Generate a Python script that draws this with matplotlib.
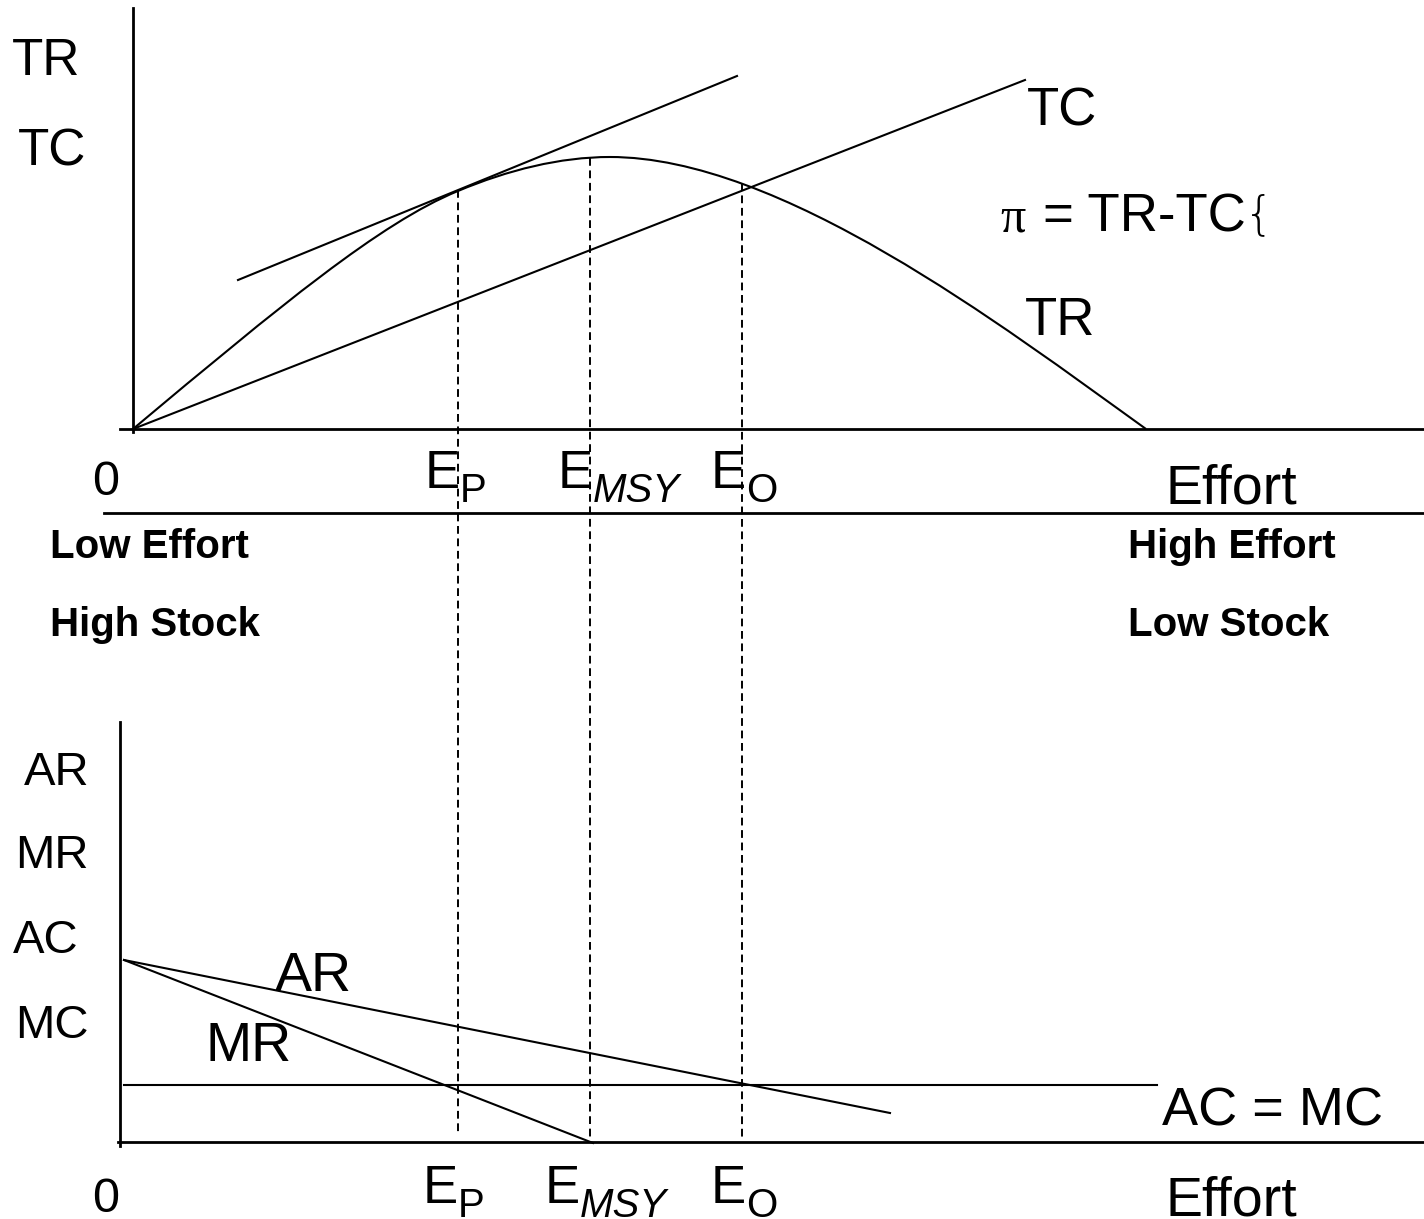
import matplotlib
matplotlib.use("Agg")
import matplotlib.pyplot as plt
from matplotlib.path import Path
from matplotlib.patches import PathPatch

# picture coordinates (pixels, y down)
# TR curve: anchor and control points of three cubic pieces
# (origin -> E_P tangent point -> peak -> zero at high effort)
tr_effort = [133, 280, 380, 458, 508, 560, 610, 780, 1000, 1146]
tr_value = [429, 306, 223, 191, 170, 157, 157, 157, 324, 429]
tc_effort = [133, 1025]
tc_value = [429, 80]
tangent_effort = [238, 737]
tangent_value = [280, 76]

e_names = ["P", "MSY", "O"]
e_effort = [458, 590, 742]
e_top = [190, 158, 183]
e_bottom = [1135, 1140, 1140]
e_label_top_x = [427, 560, 713]
e_label_bottom_x = [425, 547, 713]

ar_effort = [124, 890]
ar_value = [960, 1113]
mr_effort = [124, 593]
mr_value = [960, 1143]
acmc_effort = [124, 1157]
acmc_value = [1085, 1085]

SANS = "Liberation Sans"
SERIF = "Liberation Serif"

fig = plt.figure(figsize=(14.24, 12.19), dpi=100)
ax = fig.add_axes([0, 0, 1, 1])
ax.set_xlim(0, 1424)
ax.set_ylim(1219, 0)
ax.axis("off")

lw = 1.5
# top panel axes
ax.plot([133, 133], [8, 432], color="black", lw=2)
ax.plot([120, 1424], [429, 429], color="black", lw=2)

codes = [Path.MOVETO] + [Path.CURVE4] * (len(tr_effort) - 1)
tr_path = Path(list(zip(tr_effort, tr_value)), codes)
ax.add_patch(PathPatch(tr_path, facecolor="none", edgecolor="black", lw=lw))
ax.plot(tc_effort, tc_value, color="black", lw=lw)
ax.plot(tangent_effort, tangent_value, color="black", lw=lw)

# separator
ax.plot([104, 1424], [513, 513], color="black", lw=2)

# bottom panel
ax.plot([120, 120], [722, 1146], color="black", lw=2)
ax.plot([118, 1424], [1142, 1142], color="black", lw=2)
ax.plot(ar_effort, ar_value, color="black", lw=lw)
ax.plot(mr_effort, mr_value, color="black", lw=lw)
ax.plot(acmc_effort, acmc_value, color="black", lw=lw)

for x, y0, y1 in zip(e_effort, e_top, e_bottom):
    ax.plot([x, x], [y0, y1], color="black", lw=1.4, linestyle=(0, (4, 2.4)))

def txt(x, y, s, size=40, **kw):
    kw.setdefault("family", SANS)
    ax.text(x, y, s, fontsize=size, ha="left", va="baseline", **kw)

# top labels
txt(12, 75, "TR", 37)
txt(18, 165, "TC", 37)
txt(1027, 125, "TC", 38)
txt(1000, 232, "\u03c0", 36, family=SERIF)
txt(1043, 232, "= TR-TC", 38)
txt(1244, 228, "{", 34, family="DejaVu Sans", fontweight="light")
txt(1025, 335, "TR", 38)

# effort labels, top and bottom rows
for base, ex in [(488, e_label_top_x), (1203, e_label_bottom_x)]:
    for name, x in zip(e_names, ex):
        txt(x - 2, base, "E", 38)
        style = "italic" if name == "MSY" else "normal"
        txt(x + 33, base + 14, name, 29, style=style)
txt(92, 495, "0", 35)
txt(92, 1212, "0", 35)
txt(1166, 503, "Effort", 40)
txt(1166, 1215, "Effort", 40)

txt(50, 558, "Low Effort", 29, fontweight="bold")
txt(50, 636, "High Stock", 29, fontweight="bold")
txt(1128, 558, "High Effort", 29, fontweight="bold")
txt(1128, 636, "Low Stock", 29, fontweight="bold")

# bottom labels
txt(24, 785, "AR", 34)
txt(15, 868, "MR", 34)
txt(13, 953, "AC", 34)
txt(15, 1038, "MC", 34)
txt(275, 991, "AR", 40)
txt(205, 1061, "MR", 40)
txt(1162, 1126, "AC = MC", 39)

fig.savefig("out.png", dpi=100)
